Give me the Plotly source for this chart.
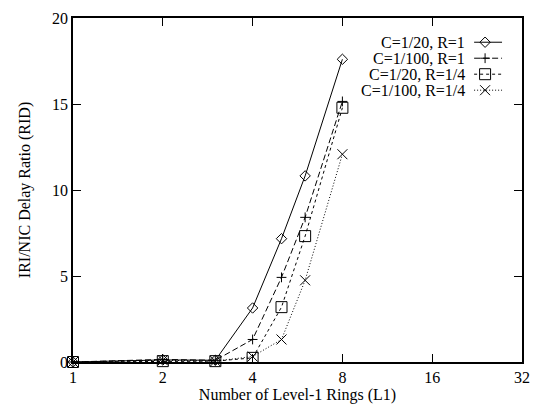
import plotly.graph_objects as go

# ---- data ----
x_rings = [1, 2, 3, 4, 5, 6, 8]
s_c20_r1 = [0.0, 0.12, 0.10, 3.14, 7.17, 10.82, 17.6]
s_c100_r1 = [0.0, 0.15, 0.10, 1.31, 4.92, 8.41, 15.15]
s_c20_r14 = [0.0, 0.05, 0.05, 0.24, 3.19, 7.32, 14.78]
s_c100_r14 = [0.0, 0.10, 0.05, 0.32, 1.31, 4.75, 12.08]
series_names = ["C=1/20, R=1", "C=1/100, R=1", "C=1/20, R=1/4", "C=1/100, R=1/4"]
x_ticks = [1, 2, 4, 8, 16, 32]
y_ticks = [0, 5, 10, 15, 20]

FONT = "Liberation Serif"
styles = [
    dict(dash="solid", symbol="diamond-open", size=8),
    dict(dash="6px,3px", symbol="cross-thin-open", size=7),
    dict(dash="3px,3px", symbol="square-open", size=11),
    dict(dash="1px,2px", symbol="x-thin-open", size=10),
]
all_series = [s_c20_r1, s_c100_r1, s_c20_r14, s_c100_r14]

fig = go.Figure()
for name, ys, st in zip(series_names, all_series, styles):
    fig.add_trace(go.Scatter(
        x=x_rings, y=ys, mode="lines+markers", name=name, showlegend=False,
        cliponaxis=False,
        line=dict(color="black", width=1, dash=st["dash"]),
        marker=dict(symbol=st["symbol"], size=st["size"], color="black",
                    line=dict(color="black", width=1)),
    ))

# ---- custom gnuplot-style legend (text left, sample right) on overlay axes ----
row_y = [25, 41.5, 58, 74.5]
for name, st, ry in zip(series_names, styles, row_y):
    fig.add_trace(go.Scatter(
        x=[402, 430], y=[ry, ry], xaxis="x2", yaxis="y2", mode="lines",
        showlegend=False, hoverinfo="skip",
        line=dict(color="black", width=1, dash=st["dash"]),
    ))
    fig.add_trace(go.Scatter(
        x=[413], y=[ry], xaxis="x2", yaxis="y2", mode="markers",
        showlegend=False, hoverinfo="skip",
        marker=dict(symbol=st["symbol"], size=st["size"], color="black",
                    line=dict(color="black", width=1)),
    ))
    fig.add_annotation(x=395, y=ry, xref="x2", yref="y2", text=name,
                       showarrow=False, xanchor="right", yanchor="middle",
                       font=dict(family=FONT, size=16, color="black"))

axis_common = dict(
    showline=True, linecolor="black", linewidth=1.5, mirror="ticks",
    ticks="inside", ticklen=8, tickwidth=1.2, tickcolor="black",
    showgrid=False, zeroline=False,
    tickfont=dict(family=FONT, size=16, color="black"),
)

fig.update_layout(
    width=540, height=409,
    margin=dict(l=73, r=17, t=10, b=44),
    paper_bgcolor="white", plot_bgcolor="white",
    font=dict(family=FONT, size=16, color="black"),
    xaxis=dict(type="log", range=[0, 1.50515], tickvals=x_ticks,
               ticktext=[str(v) for v in x_ticks],
               title=dict(text="Number of Level-1 Rings (L1)", standoff=2,
                          font=dict(family=FONT, size=16)),
               **axis_common),
    yaxis=dict(range=[0, 20], tickvals=y_ticks,
               title=dict(text="IRI/NIC Delay Ratio (RID)", standoff=17,
                          font=dict(family=FONT, size=16)),
               **axis_common),
    xaxis2=dict(overlaying="x", range=[0, 450], visible=False, fixedrange=True),
    yaxis2=dict(overlaying="y", range=[355, 0], visible=False, fixedrange=True),
    showlegend=False,
)

fig.write_html("out.html",
               config={"displayModeBar": False},
               post_script="document.body.style.margin='0px';document.body.style.overflow='hidden';")
